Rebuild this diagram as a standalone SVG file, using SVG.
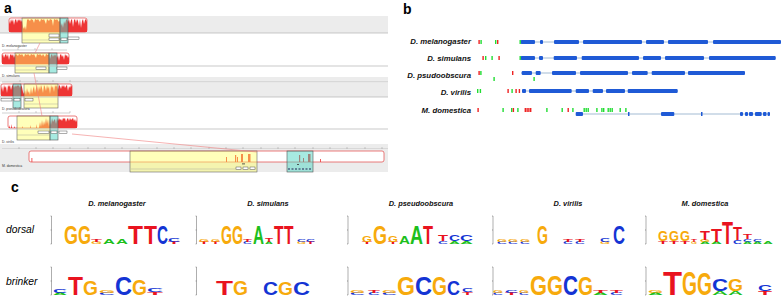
<svg xmlns="http://www.w3.org/2000/svg" width="784" height="306" viewBox="0 0 784 306">
<defs>
<style>
.lbl{font-family:"Liberation Sans",Arial,sans-serif;font-weight:700;fill:#000}
.it{font-family:"Liberation Sans",Arial,sans-serif;font-style:italic;fill:#000}
.sp{font-family:"Liberation Sans",Arial,sans-serif;font-weight:700;font-style:italic;fill:#111}
.tiny{font-family:"Liberation Sans",Arial,sans-serif;fill:#333}
.lg{font-family:"Liberation Sans",Arial,sans-serif;font-weight:700}
.A{fill:#1dbf1d}.C{fill:#1434d4}.G{fill:#f7aa0c}.T{fill:#e9131f}
.rbox{fill:#fff;stroke:#e65a5a;stroke-width:0.8}
.cons{fill:#ee3434}
.ybox{fill:#ffff66;fill-opacity:0.45;stroke:#666;stroke-width:0.6}
.cbox{fill:#4fd6c4;fill-opacity:0.5;stroke:#555;stroke-width:0.6}
.band{fill:#ececec}
.gl{stroke:#bbb;stroke-width:0.8}
.rul{stroke:#888;stroke-width:0.4;fill:none}
.lnk{stroke:#f08080;stroke-width:0.6;fill:none}
.sbox{fill:#fff;stroke:#333;stroke-width:0.4}
.gene{stroke:#c2d2e2;stroke-width:1.5}
.ex{fill:#1f5ad6}
.mr{fill:#ee2222}.mg{fill:#22dd33}
.ax{stroke:#333;stroke-width:0.4;fill:none}
</style>
</defs>
<rect width="784" height="306" fill="#fff"/>

<g id="panel-a">
<text class="lbl" x="4" y="13" font-size="14">a</text>
<!-- row 1 -->
<rect class="band" x="0" y="16" width="388" height="17"/>
<line class="gl" x1="0" y1="33" x2="388" y2="33"/>
<rect class="rbox" x="9" y="18" width="78" height="14" rx="2"/>
<path class="cons" d="M9,32 V21 L10,24 L11,19 L12,22 L13,19 L14,25 L15,20 L16,19 L17,23 L18,19 L19,21 L20,19 L21,22 L22,20 L23,27 L24,29 L25,26 L26,30 L27,20 L28,19 L30,21 L31,19 L33,20 L34,23 L35,19 L37,20 L38,19 L40,22 L41,19 L43,20 L44,19 L46,24 L47,19 L49,21 L50,19 L52,20 L53,26 L54,19 L56,20 L57,19 L59,22 L60,20 L61,26 L62,23 L63,28 L64,21 L65,24 L66,20 L67,19 L68,22 L69,19 L70,24 L71,20 L72,19 L73,27 L74,20 L75,19 L76,23 L77,19 L78,21 L79,26 L80,19 L81,28 L82,21 L83,19 L84,24 L85,20 L86,19 L87,22 V32 Z"/>
<rect class="ybox" x="22" y="18" width="38" height="25"/>
<rect class="cbox" x="60" y="18" width="8" height="25"/>
<line x1="22" y1="40" x2="60" y2="40" stroke="#999" stroke-width="0.4"/>
<rect class="sbox" x="49" y="34" width="10" height="3"/>
<rect class="sbox" x="49" y="38" width="10" height="2.5"/>
<rect class="sbox" x="61" y="38" width="6" height="2.5"/>
<rect class="sbox" x="68" y="37" width="11" height="2.5"/>
<text class="tiny" x="2" y="46.5" font-size="3.4">D. melanogaster</text>
<path class="rul" d="M2,50 H67 M18,48 V50 M35,48 V50 M52,48 V50"/>
<!-- row 2 -->
<rect class="rbox" x="2" y="53" width="67" height="11" rx="2"/>
<path class="cons" d="M2,64 V56 L3,54 L4,58 L5,55 L6,54 L7,57 L8,54 L9,60 L10,55 L11,54 L12,56 L13,54 L14,58 L15,55 L16,54 L18,56 L19,54 L21,55 L22,54 L24,57 L25,54 L27,55 L28,54 L30,56 L31,54 L33,55 L34,54 L36,58 L37,54 L39,55 L40,54 L42,56 L43,54 L45,57 L46,54 L48,55 L49,54 L50,59 L51,55 L52,54 L53,57 L54,54 L55,56 L56,54 L57,58 L58,55 L59,61 L60,55 L61,54 L62,57 L63,55 L64,60 L65,54 L66,56 L67,55 L68,58 L69,56 V64 Z"/>
<rect class="ybox" x="15" y="53" width="34" height="20"/>
<rect class="cbox" x="49" y="53" width="8" height="20"/>
<line class="gl" x1="0" y1="66" x2="388" y2="66"/>
<line x1="15" y1="70" x2="49" y2="70" stroke="#999" stroke-width="0.4"/>
<rect class="sbox" x="36" y="67" width="10" height="2.5"/>
<rect class="sbox" x="57" y="67" width="10" height="2.5"/>
<text class="tiny" x="2" y="76.5" font-size="3.4">D. simulans</text>
<rect class="band" x="0" y="77" width="388" height="5"/>
<path class="rul" d="M2,82 H388 M20,80 V82 M37,80 V82 M53,80 V82 M70,80 V82"/>
<!-- row 3 -->
<rect class="band" x="0" y="83" width="388" height="14"/>
<rect class="rbox" x="1" y="84" width="71" height="12" rx="2"/>
<path class="cons" d="M1,96 V90 L2,86 L3,92 L4,85 L5,88 L6,86 L7,93 L8,85 L9,87 L10,85 L11,90 L12,86 L13,85 L14,88 L15,85 L16,87 L17,85 L18,86 L19,85 L20,88 L21,85 L22,87 L23,92 L24,94 L25,90 L26,95 L27,88 L28,93 L29,91 L30,95 L31,87 L32,94 L33,89 L34,86 L35,93 L36,88 L37,85 L38,92 L39,86 L40,90 L41,85 L42,88 L43,93 L44,85 L45,87 L46,91 L47,85 L48,89 L49,86 L50,94 L51,85 L52,88 L53,86 L54,92 L55,85 L56,87 L57,85 L58,90 L59,85 L60,86 L61,89 L62,85 L63,87 L64,85 L65,88 L66,86 L67,85 L68,91 L69,86 L70,88 L71,85 L72,87 V96 Z"/>
<rect class="cbox" x="13" y="84" width="8" height="24"/>
<rect class="ybox" x="24" y="84" width="34" height="24"/>
<line class="gl" x1="0" y1="97" x2="388" y2="97"/>
<line x1="24" y1="104" x2="58" y2="104" stroke="#999" stroke-width="0.4"/>
<rect class="sbox" x="1" y="98.5" width="11" height="2.5"/>
<rect class="sbox" x="14" y="98.5" width="6" height="2.5"/>
<rect class="sbox" x="25" y="98.5" width="8" height="2.5"/>
<text class="tiny" x="2" y="109.5" font-size="3.4">D. pseudoobscura</text>
<path class="rul" d="M2,113 H70 M19,111 V113 M36,111 V113 M53,111 V113 M70,111 V113"/>
<!-- row 4 -->
<rect class="rbox" x="8" y="116" width="69" height="12" rx="2"/>
<path class="cons" d="M36,128 L36,124 L37,128 L39,128 L40,122 L41,127 L42,120 L43,126 L44,121 L45,125 L46,118 L47,124 L48,119 L49,127 L50,120 L51,125 L52,118 L53,122 L54,120 L55,119 L56,124 L57,118 L58,121 L59,118 L60,120 L61,119 L62,121 L63,118 L64,119 L65,118 L66,122 L67,119 L68,118 L69,121 L70,118 L71,120 L72,119 L73,118 L74,121 L75,119 L76,122 L77,120 L77,128 Z M9,128 L9,125 L10,128 Z M11,128 L11,124 L12,128 Z M14,128 L14,126 L15,128 Z M22,128 L22,126 L23,128 Z M30,128 L30,125 L31,128 Z"/>
<rect class="ybox" x="17" y="116" width="33" height="24"/>
<rect class="cbox" x="50" y="116" width="8" height="24"/>
<line class="gl" x1="0" y1="129" x2="388" y2="129"/>
<line x1="17" y1="135" x2="50" y2="135" stroke="#999" stroke-width="0.4"/>
<rect class="sbox" x="38" y="131" width="11" height="2.5"/>
<rect class="sbox" x="51" y="131" width="6" height="2.5"/>
<rect class="sbox" x="59" y="131" width="8" height="2.5"/>
<text class="tiny" x="2" y="143" font-size="3.4">D. virilis</text>
<rect class="band" x="0" y="144" width="388" height="5"/>
<path class="rul" d="M2,149 H388 M19,147 V149 M36,147 V149 M53,147 V149 M70,147 V149 M88,147 V149 M105,147 V149 M122,147 V149 M139,147 V149 M157,147 V149 M174,147 V149 M191,147 V149 M209,147 V149 M226,147 V149 M243,147 V149 M261,147 V149 M278,147 V149 M295,147 V149 M313,147 V149 M330,147 V149 M347,147 V149 M365,147 V149 M382,147 V149"/>
<!-- row 5 -->
<rect class="band" x="0" y="149" width="388" height="23"/>
<rect class="rbox" x="29" y="151" width="355" height="11" rx="2"/>
<g class="cons">
<rect x="31.5" y="158" width="0.8" height="4"/>
<rect x="226" y="157" width="1" height="5"/>
<rect x="235" y="155" width="1.2" height="7"/>
<rect x="237" y="157" width="1" height="5"/>
<rect x="241" y="154" width="2" height="8"/>
<rect x="248" y="154" width="2.5" height="8"/>
<rect x="299" y="155" width="1.2" height="7"/>
<rect x="303" y="158" width="1" height="4"/>
<rect x="308" y="154" width="2.5" height="8"/>
<rect x="320" y="159" width="0.8" height="3"/>
</g>
<rect class="ybox" x="130" y="151" width="127" height="21"/>
<rect class="cbox" x="287" y="151" width="26" height="21"/>
<line x1="131" y1="169" x2="256" y2="169" stroke="#999" stroke-width="0.4"/>
<rect x="242" y="163.5" width="3" height="0.8" fill="#333"/>
<rect class="sbox" x="236" y="167" width="5" height="2.5"/>
<rect class="sbox" x="243" y="167" width="5" height="2.5"/>
<rect class="sbox" x="250" y="167" width="5" height="2.5"/>
<rect x="297" y="164" width="2" height="0.8" fill="#333"/>
<path d="M288,169 H312" stroke="#225" stroke-width="1.2" stroke-dasharray="2,1.5"/>
<text class="tiny" x="2" y="167" font-size="3.4">M. domestica</text>
<!-- links -->
<path class="lnk" d="M40,43 L35,53 M34,73 L42,116 M72,134 L257,152"/>
</g>

<g id="panel-b">
<text class="lbl" x="403" y="14" font-size="14">b</text>
<g id="b-labels" text-anchor="end">
<text class="sp" x="471" y="44" font-size="7.8">D. melanogaster</text>
<text class="sp" x="471" y="61" font-size="7.8">D. simulans</text>
<text class="sp" x="471" y="78" font-size="7.8">D. psudoobscura</text>
<text class="sp" x="471" y="95" font-size="7.8">D. virilis</text>
<text class="sp" x="471" y="113" font-size="7.8">M. domestica</text>
</g>
<g id="b-genes">
<line class="gene" x1="520" y1="42" x2="781" y2="42"/>
<line class="gene" x1="520" y1="58" x2="776" y2="58"/>
<line class="gene" x1="521" y1="73" x2="745" y2="73"/>
<line class="gene" x1="522" y1="91" x2="678" y2="91"/>
<line class="gene" x1="576" y1="114" x2="770" y2="114"/>
<g class="ex">
<rect x="520.7" y="40" width="14.3" height="4" rx="1"/><rect x="540" y="40" width="3" height="4" rx="1"/><rect x="554" y="40" width="25" height="4" rx="1"/><rect x="583" y="40" width="59" height="4" rx="1"/><rect x="646" y="40" width="18" height="4" rx="1"/><rect x="668" y="40" width="40" height="4" rx="1"/><rect x="713" y="40" width="68" height="4" rx="1"/>
<rect x="520.7" y="56" width="14.3" height="4" rx="1"/><rect x="539" y="56" width="4" height="4" rx="1"/><rect x="553.7" y="56" width="23.3" height="4" rx="1"/><rect x="581.7" y="56" width="57.3" height="4" rx="1"/><rect x="643" y="56" width="18" height="4" rx="1"/><rect x="665" y="56" width="39" height="4" rx="1"/><rect x="709" y="56" width="66.7" height="4" rx="1"/>
<rect x="521.7" y="71" width="10.3" height="4" rx="1"/><rect x="535.7" y="71" width="5" height="4" rx="1"/><rect x="552" y="71" width="24" height="4" rx="1"/><rect x="580" y="71" width="48" height="4" rx="1"/><rect x="632" y="71" width="15.7" height="4" rx="1"/><rect x="651.7" y="71" width="33.3" height="4" rx="1"/><rect x="688" y="71" width="57" height="4" rx="1"/>
<rect x="522" y="89" width="4" height="4" rx="1"/><rect x="529" y="89" width="42.7" height="4" rx="1"/><rect x="575.7" y="89" width="13.3" height="4" rx="1"/><rect x="592.7" y="89" width="10.3" height="4" rx="1"/><rect x="606" y="89" width="19" height="4" rx="1"/><rect x="627.7" y="89" width="50" height="4" rx="1"/>
<rect x="575.7" y="112" width="7.3" height="4" rx="1"/><rect x="628" y="112" width="1.5" height="4"/><rect x="661" y="112" width="13.3" height="4" rx="1"/><rect x="701" y="112" width="1.5" height="4"/><rect x="740" y="112" width="3" height="4" rx="1"/><rect x="745" y="112" width="3" height="4" rx="1"/><rect x="749" y="112" width="4" height="4" rx="1"/><rect x="755" y="112" width="6.7" height="4" rx="1"/><rect x="763" y="112" width="3.5" height="4" rx="1"/><rect x="767.5" y="112" width="2.5" height="4" rx="1"/>
</g>
</g>
<g id="b-sites">
<rect class="mr" x="478.4" y="40" width="1.4" height="4"/><rect class="mg" x="480.4" y="40" width="1.4" height="4"/><rect class="mg" x="495" y="40" width="1.4" height="4"/><rect class="mr" x="497" y="40" width="1.4" height="4"/><rect class="mg" x="519.5" y="40" width="1.4" height="4"/>
<rect class="mr" x="482.4" y="56" width="1.4" height="4"/><rect class="mg" x="485" y="56" width="1.4" height="4"/><rect class="mg" x="491.4" y="56" width="1.4" height="4"/><rect class="mr" x="498.4" y="56" width="1.4" height="4"/><rect class="mg" x="519.5" y="56" width="1.4" height="4"/>
<rect class="mr" x="478.4" y="71" width="1.4" height="4"/><rect class="mg" x="480.2" y="71" width="1.4" height="4"/><rect class="mg" x="493.4" y="77" width="1.4" height="4"/><rect class="mr" x="512" y="71" width="1.4" height="4"/><rect class="mg" x="533.4" y="77" width="1.4" height="4"/>
<rect class="mg" x="477" y="89" width="1.4" height="4"/><rect class="mg" x="479.7" y="89" width="1.4" height="4"/><rect class="mr" x="507.4" y="89" width="1.4" height="4"/><rect class="mg" x="511.4" y="89" width="1.4" height="4"/><rect class="mr" x="515.4" y="89" width="1.4" height="4"/><rect class="mr" x="518.7" y="89" width="1.4" height="4"/>
<rect class="mr" x="477.4" y="108" width="1.4" height="4"/><rect class="mg" x="502.4" y="108" width="1.4" height="4"/><rect class="mg" x="511" y="108" width="1.4" height="4"/><rect class="mr" x="512.7" y="108" width="1.4" height="4"/><rect class="mg" x="517.2" y="108" width="1.4" height="4"/><rect class="mr" x="524.6" y="108" width="1.4" height="4"/><rect class="mr" x="526.4" y="108" width="1.4" height="4"/><rect class="mr" x="528.2" y="108" width="1.4" height="4"/><rect class="mr" x="530" y="108" width="1.4" height="4"/><rect class="mg" x="546.2" y="108" width="1.4" height="4"/><rect class="mg" x="561.5" y="108" width="1.4" height="4"/><rect class="mr" x="567.5" y="108" width="1.4" height="4"/><rect class="mg" x="572.2" y="108" width="1.4" height="4"/><rect class="mg" x="583.5" y="108" width="1.4" height="4"/><rect class="mg" x="585.5" y="108" width="1.4" height="4"/><rect class="mg" x="587.5" y="108" width="1.4" height="4"/><rect class="mg" x="596.2" y="108" width="1.4" height="4"/><rect class="mg" x="601.2" y="108" width="1.4" height="4"/><rect class="mg" x="603" y="108" width="1.4" height="4"/><rect class="mg" x="607.5" y="108" width="1.4" height="4"/><rect class="mg" x="609.5" y="108" width="1.4" height="4"/><rect class="mg" x="611.5" y="108" width="1.4" height="4"/><rect class="mg" x="619.5" y="108" width="1.4" height="4"/><rect class="mg" x="625.2" y="108" width="1.4" height="4"/>
</g>
</g>

<g id="panel-c">
<text class="lbl" x="11" y="192" font-size="14">c</text>
<g id="c-titles" text-anchor="middle">
<text class="sp" x="117" y="206" font-size="7.4">D. melanogaster</text>
<text class="sp" x="268" y="206" font-size="7.4">D. simulans</text>
<text class="sp" x="421" y="206" font-size="7.4">D. pseudoobscura</text>
<text class="sp" x="568" y="206" font-size="7.4">D. virilis</text>
<text class="sp" x="705" y="206" font-size="7.4">M. domestica</text>
</g>
<text class="it" x="6" y="233" font-size="10.3">dorsal</text>
<text class="it" x="6" y="285" font-size="10.3">brinker</text>

<g id="axes">
<path class="ax" d="M51.5,216 V244 M50.5,216 H51.5 M50.5,230 H51.5 M50.5,244 H51.5 M196.5,216 V244 M195.5,216 H196.5 M195.5,230 H196.5 M195.5,244 H196.5 M348,216 V244 M347,216 H348 M347,230 H348 M347,244 H348 M493,216 V244 M492,216 H493 M492,230 H493 M492,244 H493 M646,216 V244 M645,216 H646 M645,230 H646 M645,244 H646"/>
<path class="ax" d="M51.5,267 V295 M50.5,267 H51.5 M50.5,281 H51.5 M50.5,295 H51.5 M196.5,267 V295 M195.5,267 H196.5 M195.5,281 H196.5 M195.5,295 H196.5 M348,267 V295 M347,267 H348 M347,281 H348 M347,295 H348 M493,267 V295 M492,267 H493 M492,281 H493 M492,295 H493 M646,267 V295 M645,267 H646 M645,281 H646 M645,295 H646"/>
</g>

<g id="logo-dorsal-mel">
<text class="lg G" x="64" y="244" font-size="26.5" textLength="14" lengthAdjust="spacingAndGlyphs">G</text>
<text class="lg G" x="78" y="244" font-size="26.5" textLength="13" lengthAdjust="spacingAndGlyphs">G</text>
<text class="lg G" x="91" y="244" font-size="2.8" textLength="11" lengthAdjust="spacingAndGlyphs">G</text>
<text class="lg T" x="91" y="242" font-size="4.2" textLength="11" lengthAdjust="spacingAndGlyphs">T</text>
<text class="lg A" x="103" y="244" font-size="7" textLength="12" lengthAdjust="spacingAndGlyphs">A</text>
<text class="lg A" x="116" y="244" font-size="7" textLength="12" lengthAdjust="spacingAndGlyphs">A</text>
<text class="lg T" x="128" y="244" font-size="26.5" textLength="15" lengthAdjust="spacingAndGlyphs">T</text>
<text class="lg T" x="144" y="244" font-size="26.5" textLength="13" lengthAdjust="spacingAndGlyphs">T</text>
<text class="lg C" x="157" y="244" font-size="26.5" textLength="11" lengthAdjust="spacingAndGlyphs">C</text>
<text class="lg T" x="168" y="244" font-size="2.8" textLength="12" lengthAdjust="spacingAndGlyphs">T</text>
<text class="lg C" x="168" y="242" font-size="5.6" textLength="12" lengthAdjust="spacingAndGlyphs">C</text>
</g>

<g id="logo-dorsal-sim">
<text class="lg T" x="199" y="244" font-size="2.8" textLength="10" lengthAdjust="spacingAndGlyphs">T</text>
<text class="lg G" x="199" y="242" font-size="4.2" textLength="10" lengthAdjust="spacingAndGlyphs">G</text>
<text class="lg T" x="211" y="244" font-size="2.8" textLength="9" lengthAdjust="spacingAndGlyphs">T</text>
<text class="lg G" x="211" y="242" font-size="4.2" textLength="9" lengthAdjust="spacingAndGlyphs">G</text>
<text class="lg G" x="221" y="244" font-size="26.5" textLength="11" lengthAdjust="spacingAndGlyphs">G</text>
<text class="lg G" x="232" y="244" font-size="26.5" textLength="11" lengthAdjust="spacingAndGlyphs">G</text>
<text class="lg C" x="243" y="244" font-size="2.8" textLength="9" lengthAdjust="spacingAndGlyphs">C</text>
<text class="lg T" x="243" y="242" font-size="4.2" textLength="9" lengthAdjust="spacingAndGlyphs">T</text>
<text class="lg A" x="253" y="244" font-size="26.5" textLength="11" lengthAdjust="spacingAndGlyphs">A</text>
<text class="lg A" x="265" y="244" font-size="2.8" textLength="8" lengthAdjust="spacingAndGlyphs">A</text>
<text class="lg T" x="265" y="242" font-size="5.6" textLength="8" lengthAdjust="spacingAndGlyphs">T</text>
<text class="lg T" x="274" y="244" font-size="26.5" textLength="9.5" lengthAdjust="spacingAndGlyphs">T</text>
<text class="lg T" x="284" y="244" font-size="26.5" textLength="9.5" lengthAdjust="spacingAndGlyphs">T</text>
<text class="lg G" x="297" y="244" font-size="2.8" textLength="9" lengthAdjust="spacingAndGlyphs">G</text>
<text class="lg C" x="297" y="242" font-size="4.2" textLength="9" lengthAdjust="spacingAndGlyphs">C</text>
<text class="lg T" x="306" y="244" font-size="2.8" textLength="9" lengthAdjust="spacingAndGlyphs">T</text>
<text class="lg C" x="306" y="242" font-size="4.2" textLength="9" lengthAdjust="spacingAndGlyphs">C</text>
</g>

<g id="logo-dorsal-pse">
<text class="lg T" x="362" y="244" font-size="2.8" textLength="10" lengthAdjust="spacingAndGlyphs">T</text>
<text class="lg G" x="362" y="242" font-size="9.8" textLength="10" lengthAdjust="spacingAndGlyphs">G</text>
<text class="lg G" x="373" y="244" font-size="25.1" textLength="14" lengthAdjust="spacingAndGlyphs">G</text>
<text class="lg T" x="388" y="244" font-size="2.8" textLength="10" lengthAdjust="spacingAndGlyphs">T</text>
<text class="lg G" x="388" y="242" font-size="9.8" textLength="10" lengthAdjust="spacingAndGlyphs">G</text>
<text class="lg A" x="399" y="244" font-size="11.2" textLength="11" lengthAdjust="spacingAndGlyphs">A</text>
<text class="lg A" x="410" y="244" font-size="26.5" textLength="13" lengthAdjust="spacingAndGlyphs">A</text>
<text class="lg T" x="423" y="244" font-size="26.5" textLength="10" lengthAdjust="spacingAndGlyphs">T</text>
<text class="lg C" x="438" y="244" font-size="4.2" textLength="10" lengthAdjust="spacingAndGlyphs">C</text>
<text class="lg T" x="438" y="241" font-size="8.4" textLength="10" lengthAdjust="spacingAndGlyphs">T</text>
<text class="lg A" x="449" y="244" font-size="4.2" textLength="11" lengthAdjust="spacingAndGlyphs">A</text>
<text class="lg C" x="449" y="241" font-size="8.4" textLength="11" lengthAdjust="spacingAndGlyphs">C</text>
<text class="lg A" x="460" y="244" font-size="4.2" textLength="13" lengthAdjust="spacingAndGlyphs">A</text>
<text class="lg C" x="460" y="241" font-size="8.4" textLength="13" lengthAdjust="spacingAndGlyphs">C</text>
</g>

<g id="logo-dorsal-vir">
<text class="lg C" x="497" y="244" font-size="2.8" textLength="10" lengthAdjust="spacingAndGlyphs">C</text>
<text class="lg G" x="497" y="242" font-size="2.8" textLength="10" lengthAdjust="spacingAndGlyphs">G</text>
<text class="lg C" x="508" y="244" font-size="2.8" textLength="10" lengthAdjust="spacingAndGlyphs">C</text>
<text class="lg G" x="508" y="242" font-size="2.8" textLength="10" lengthAdjust="spacingAndGlyphs">G</text>
<text class="lg C" x="520" y="244" font-size="2.8" textLength="10" lengthAdjust="spacingAndGlyphs">C</text>
<text class="lg G" x="520" y="242" font-size="4.2" textLength="10" lengthAdjust="spacingAndGlyphs">G</text>
<text class="lg G" x="537" y="244" font-size="26.5" textLength="11" lengthAdjust="spacingAndGlyphs">G</text>
<text class="lg C" x="563" y="244" font-size="2.8" textLength="10" lengthAdjust="spacingAndGlyphs">C</text>
<text class="lg T" x="563" y="242" font-size="4.2" textLength="10" lengthAdjust="spacingAndGlyphs">T</text>
<text class="lg C" x="575" y="244" font-size="2.8" textLength="10" lengthAdjust="spacingAndGlyphs">C</text>
<text class="lg T" x="575" y="242" font-size="4.2" textLength="10" lengthAdjust="spacingAndGlyphs">T</text>
<text class="lg G" x="600" y="244" font-size="2.8" textLength="10" lengthAdjust="spacingAndGlyphs">G</text>
<text class="lg C" x="600" y="242" font-size="5.6" textLength="10" lengthAdjust="spacingAndGlyphs">C</text>
<text class="lg C" x="613" y="244" font-size="26.5" textLength="12" lengthAdjust="spacingAndGlyphs">C</text>
</g>

<g id="logo-dorsal-dom">
<text class="lg T" x="658" y="244" font-size="4.2" textLength="10" lengthAdjust="spacingAndGlyphs">T</text>
<text class="lg G" x="658" y="241" font-size="15.4" textLength="10" lengthAdjust="spacingAndGlyphs">G</text>
<text class="lg T" x="669" y="244" font-size="4.2" textLength="10" lengthAdjust="spacingAndGlyphs">T</text>
<text class="lg G" x="669" y="241" font-size="15.4" textLength="10" lengthAdjust="spacingAndGlyphs">G</text>
<text class="lg T" x="680" y="244" font-size="4.2" textLength="10" lengthAdjust="spacingAndGlyphs">T</text>
<text class="lg G" x="680" y="241" font-size="15.4" textLength="10" lengthAdjust="spacingAndGlyphs">G</text>
<text class="lg G" x="691" y="244" font-size="2.8" textLength="6" lengthAdjust="spacingAndGlyphs">G</text>
<text class="lg T" x="691" y="242" font-size="4.2" textLength="6" lengthAdjust="spacingAndGlyphs">T</text>
<text class="lg A" x="700" y="244" font-size="2.8" textLength="10" lengthAdjust="spacingAndGlyphs">A</text>
<text class="lg G" x="700" y="242" font-size="2.8" textLength="10" lengthAdjust="spacingAndGlyphs">G</text>
<text class="lg T" x="700" y="240" font-size="12.6" textLength="10" lengthAdjust="spacingAndGlyphs">T</text>
<text class="lg A" x="711" y="244" font-size="2.8" textLength="11" lengthAdjust="spacingAndGlyphs">A</text>
<text class="lg T" x="711" y="242" font-size="18.2" textLength="11" lengthAdjust="spacingAndGlyphs">T</text>
<text class="lg T" x="722" y="244" font-size="30.7" textLength="11" lengthAdjust="spacingAndGlyphs">T</text>
<text class="lg C" x="733" y="244" font-size="5.6" textLength="9" lengthAdjust="spacingAndGlyphs">C</text>
<text class="lg T" x="733" y="240" font-size="18.2" textLength="9" lengthAdjust="spacingAndGlyphs">T</text>
<text class="lg A" x="743" y="244" font-size="2.8" textLength="9" lengthAdjust="spacingAndGlyphs">A</text>
<text class="lg C" x="743" y="242" font-size="4.2" textLength="9" lengthAdjust="spacingAndGlyphs">C</text>
<text class="lg T" x="743" y="239" font-size="7" textLength="9" lengthAdjust="spacingAndGlyphs">T</text>
<text class="lg A" x="753" y="244" font-size="2.8" textLength="9" lengthAdjust="spacingAndGlyphs">A</text>
<text class="lg C" x="753" y="242" font-size="4.2" textLength="9" lengthAdjust="spacingAndGlyphs">C</text>
<text class="lg A" x="763" y="244" font-size="4.2" textLength="10" lengthAdjust="spacingAndGlyphs">A</text>
</g>

<g id="logo-brinker-mel">
<text class="lg A" x="53" y="295" font-size="2.8" textLength="14" lengthAdjust="spacingAndGlyphs">A</text>
<text class="lg C" x="53" y="293" font-size="5.6" textLength="14" lengthAdjust="spacingAndGlyphs">C</text>
<text class="lg T" x="68" y="295" font-size="25.1" textLength="15" lengthAdjust="spacingAndGlyphs">T</text>
<text class="lg G" x="83" y="295" font-size="19.6" textLength="15" lengthAdjust="spacingAndGlyphs">G</text>
<text class="lg C" x="99" y="295" font-size="2.8" textLength="16" lengthAdjust="spacingAndGlyphs">C</text>
<text class="lg G" x="99" y="293" font-size="4.2" textLength="16" lengthAdjust="spacingAndGlyphs">G</text>
<text class="lg C" x="115" y="295" font-size="25.1" textLength="17" lengthAdjust="spacingAndGlyphs">C</text>
<text class="lg G" x="132" y="295" font-size="22.4" textLength="15" lengthAdjust="spacingAndGlyphs">G</text>
<text class="lg T" x="147" y="295" font-size="4.2" textLength="16" lengthAdjust="spacingAndGlyphs">T</text>
<text class="lg C" x="147" y="292" font-size="5.6" textLength="16" lengthAdjust="spacingAndGlyphs">C</text>
</g>

<g id="logo-brinker-sim">
<text class="lg T" x="216" y="295" font-size="19.6" textLength="17" lengthAdjust="spacingAndGlyphs">T</text>
<text class="lg G" x="233" y="295" font-size="19.6" textLength="15" lengthAdjust="spacingAndGlyphs">G</text>
<text class="lg C" x="263" y="295" font-size="18.2" textLength="15" lengthAdjust="spacingAndGlyphs">C</text>
<text class="lg G" x="278" y="295" font-size="18.2" textLength="15" lengthAdjust="spacingAndGlyphs">G</text>
<text class="lg C" x="293" y="295" font-size="18.2" textLength="17" lengthAdjust="spacingAndGlyphs">C</text>
</g>

<g id="logo-brinker-pse">
<text class="lg C" x="350" y="295" font-size="2.8" textLength="15" lengthAdjust="spacingAndGlyphs">C</text>
<text class="lg G" x="350" y="293" font-size="2.8" textLength="15" lengthAdjust="spacingAndGlyphs">G</text>
<text class="lg C" x="368" y="295" font-size="2.8" textLength="12" lengthAdjust="spacingAndGlyphs">C</text>
<text class="lg T" x="368" y="293" font-size="4.2" textLength="12" lengthAdjust="spacingAndGlyphs">T</text>
<text class="lg C" x="382" y="295" font-size="2.8" textLength="15" lengthAdjust="spacingAndGlyphs">C</text>
<text class="lg G" x="382" y="293" font-size="2.8" textLength="15" lengthAdjust="spacingAndGlyphs">G</text>
<text class="lg G" x="397" y="295" font-size="26.5" textLength="18" lengthAdjust="spacingAndGlyphs">G</text>
<text class="lg C" x="415" y="295" font-size="26.5" textLength="17" lengthAdjust="spacingAndGlyphs">C</text>
<text class="lg G" x="432" y="295" font-size="26.5" textLength="15" lengthAdjust="spacingAndGlyphs">G</text>
<text class="lg C" x="447" y="295" font-size="19.6" textLength="13" lengthAdjust="spacingAndGlyphs">C</text>
<text class="lg T" x="462" y="295" font-size="4.2" textLength="11" lengthAdjust="spacingAndGlyphs">T</text>
<text class="lg C" x="462" y="292" font-size="5.6" textLength="11" lengthAdjust="spacingAndGlyphs">C</text>
</g>

<g id="logo-brinker-vir">
<text class="lg C" x="493" y="295" font-size="2.8" textLength="10" lengthAdjust="spacingAndGlyphs">C</text>
<text class="lg G" x="493" y="293" font-size="2.8" textLength="10" lengthAdjust="spacingAndGlyphs">G</text>
<text class="lg T" x="505" y="295" font-size="2.8" textLength="13" lengthAdjust="spacingAndGlyphs">T</text>
<text class="lg C" x="505" y="293" font-size="4.2" textLength="13" lengthAdjust="spacingAndGlyphs">C</text>
<text class="lg C" x="519" y="295" font-size="2.8" textLength="10" lengthAdjust="spacingAndGlyphs">C</text>
<text class="lg G" x="519" y="293" font-size="2.8" textLength="10" lengthAdjust="spacingAndGlyphs">G</text>
<text class="lg G" x="530" y="295" font-size="27.9" textLength="17" lengthAdjust="spacingAndGlyphs">G</text>
<text class="lg G" x="547" y="295" font-size="27.9" textLength="16" lengthAdjust="spacingAndGlyphs">G</text>
<text class="lg C" x="563" y="295" font-size="27.9" textLength="15" lengthAdjust="spacingAndGlyphs">C</text>
<text class="lg G" x="578" y="295" font-size="26.5" textLength="15" lengthAdjust="spacingAndGlyphs">G</text>
<text class="lg A" x="593" y="295" font-size="2.8" textLength="15" lengthAdjust="spacingAndGlyphs">A</text>
<text class="lg T" x="593" y="293" font-size="4.2" textLength="15" lengthAdjust="spacingAndGlyphs">T</text>
<text class="lg C" x="610" y="295" font-size="2.8" textLength="13" lengthAdjust="spacingAndGlyphs">C</text>
<text class="lg T" x="610" y="293" font-size="4.2" textLength="13" lengthAdjust="spacingAndGlyphs">T</text>
</g>

<g id="logo-brinker-dom">
<text class="lg A" x="648" y="295" font-size="2.8" textLength="15" lengthAdjust="spacingAndGlyphs">A</text>
<text class="lg G" x="648" y="293" font-size="4.2" textLength="15" lengthAdjust="spacingAndGlyphs">G</text>
<text class="lg T" x="663" y="295" font-size="33.5" textLength="19" lengthAdjust="spacingAndGlyphs">T</text>
<text class="lg G" x="682" y="295" font-size="33.5" textLength="15" lengthAdjust="spacingAndGlyphs">G</text>
<text class="lg G" x="697" y="295" font-size="30.7" textLength="15" lengthAdjust="spacingAndGlyphs">G</text>
<text class="lg A" x="712" y="295" font-size="5.6" textLength="16" lengthAdjust="spacingAndGlyphs">A</text>
<text class="lg C" x="712" y="291" font-size="16.8" textLength="16" lengthAdjust="spacingAndGlyphs">C</text>
<text class="lg A" x="728" y="295" font-size="5.6" textLength="15" lengthAdjust="spacingAndGlyphs">A</text>
<text class="lg G" x="728" y="291" font-size="16.8" textLength="15" lengthAdjust="spacingAndGlyphs">G</text>
<text class="lg T" x="758" y="295" font-size="5.6" textLength="14" lengthAdjust="spacingAndGlyphs">T</text>
<text class="lg C" x="758" y="291" font-size="8.4" textLength="14" lengthAdjust="spacingAndGlyphs">C</text>
</g>
</g>
</svg>
